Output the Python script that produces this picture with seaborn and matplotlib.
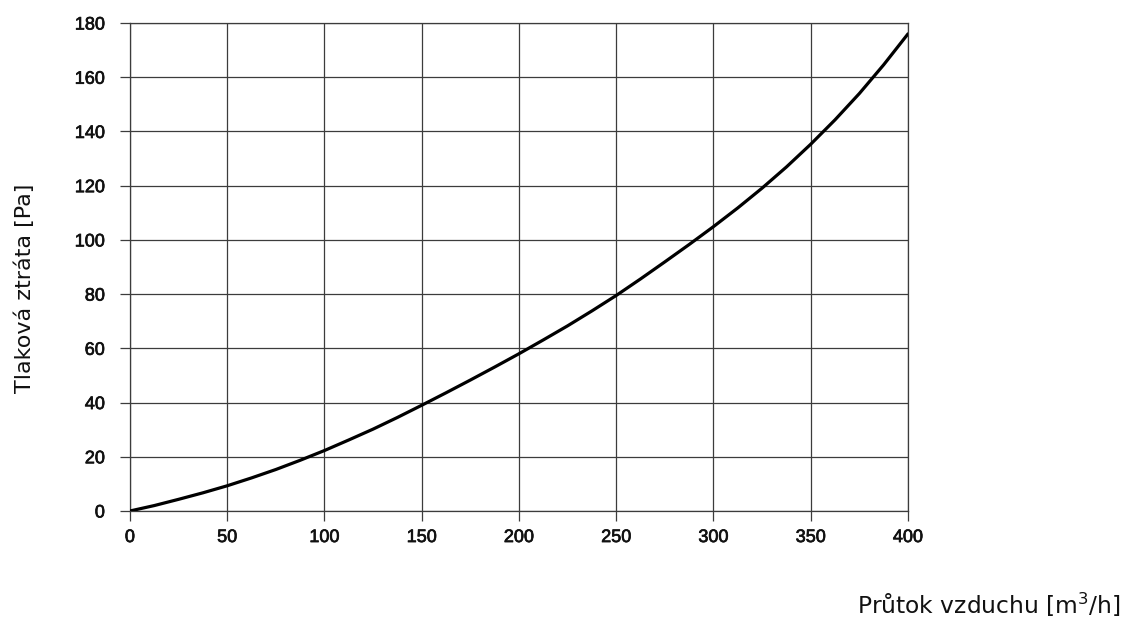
import matplotlib
matplotlib.use("Agg")
import matplotlib.pyplot as plt
import matplotlib.patheffects as pe
import seaborn as sns
import pandas as pd

# airflow [m3/h] vs pressure loss [Pa]
prutok = [0, 12.5, 25, 37.5, 50, 62.5, 75, 87.5, 100, 112.5, 125, 137.5, 150, 162.5,
          175, 187.5, 200, 212.5, 225, 237.5, 250, 262.5, 275, 287.5, 300, 312.5,
          325, 337.5, 350, 362.5, 375, 387.5, 400]
ztrata = [0, 2.0, 4.3, 6.7, 9.3, 12.2, 15.3, 18.7, 22.3, 26.2, 30.2, 34.5, 39.0, 43.6,
          48.3, 53.1, 58.0, 63.1, 68.3, 73.8, 79.5, 85.6, 91.9, 98.3, 104.9, 111.8,
          119.1, 126.9, 135.3, 144.3, 154.0, 164.6, 176.0]

x_ticks = [0, 50, 100, 150, 200, 250, 300, 350, 400]
y_ticks = [0, 20, 40, 60, 80, 100, 120, 140, 160, 180]

df = pd.DataFrame({"prutok": prutok, "ztrata": ztrata})

sns.set_style("white")
plt.rcParams['font.family'] = ['DejaVu Sans']

grid_col = "#3c3c3c"

fig = plt.figure(figsize=(11.34, 6.19), dpi=100)
ax = fig.add_axes([0.1146, 0.1745, 0.8007 - 0.1146, 0.9628 - 0.1745])

sns.lineplot(data=df, x="prutok", y="ztrata", color="black", linewidth=2.3, ax=ax, zorder=5)

ax.set_xlim(0, 400)
ax.set_ylim(0, 180)
ax.set_xticks(x_ticks)
ax.set_yticks(y_ticks)
ax.grid(True, color=grid_col, linewidth=0.9)
for s in ax.spines.values():
    s.set_color(grid_col)
    s.set_linewidth(0.9)

ax.tick_params(axis="both", which="major", direction="out", length=7, width=0.9,
               color=grid_col, labelcolor="#111111", left=True, bottom=True)
ax.tick_params(axis="y", pad=11)
ax.tick_params(axis="x", pad=6)
for lab in ax.get_xticklabels() + ax.get_yticklabels():
    lab.set_fontfamily("Liberation Sans")
    lab.set_fontsize(13)
    # the reference digits are a little heavier than regular weight
    lab.set_path_effects([pe.withStroke(linewidth=0.5, foreground="#111111")])

ax.set_xlabel("")
ax.set_ylabel("")

fig.text(0.988, 0.0226, "Průtok vzduchu [m$^3$/h]", ha="right", va="center",
         fontsize=16.8, color="#111111")
fig.text(0.022, 0.535, "Tlaková ztráta [Pa]", rotation=90, ha="center", va="center",
         fontsize=16, color="#111111")

fig.savefig("out.png", dpi=100)
